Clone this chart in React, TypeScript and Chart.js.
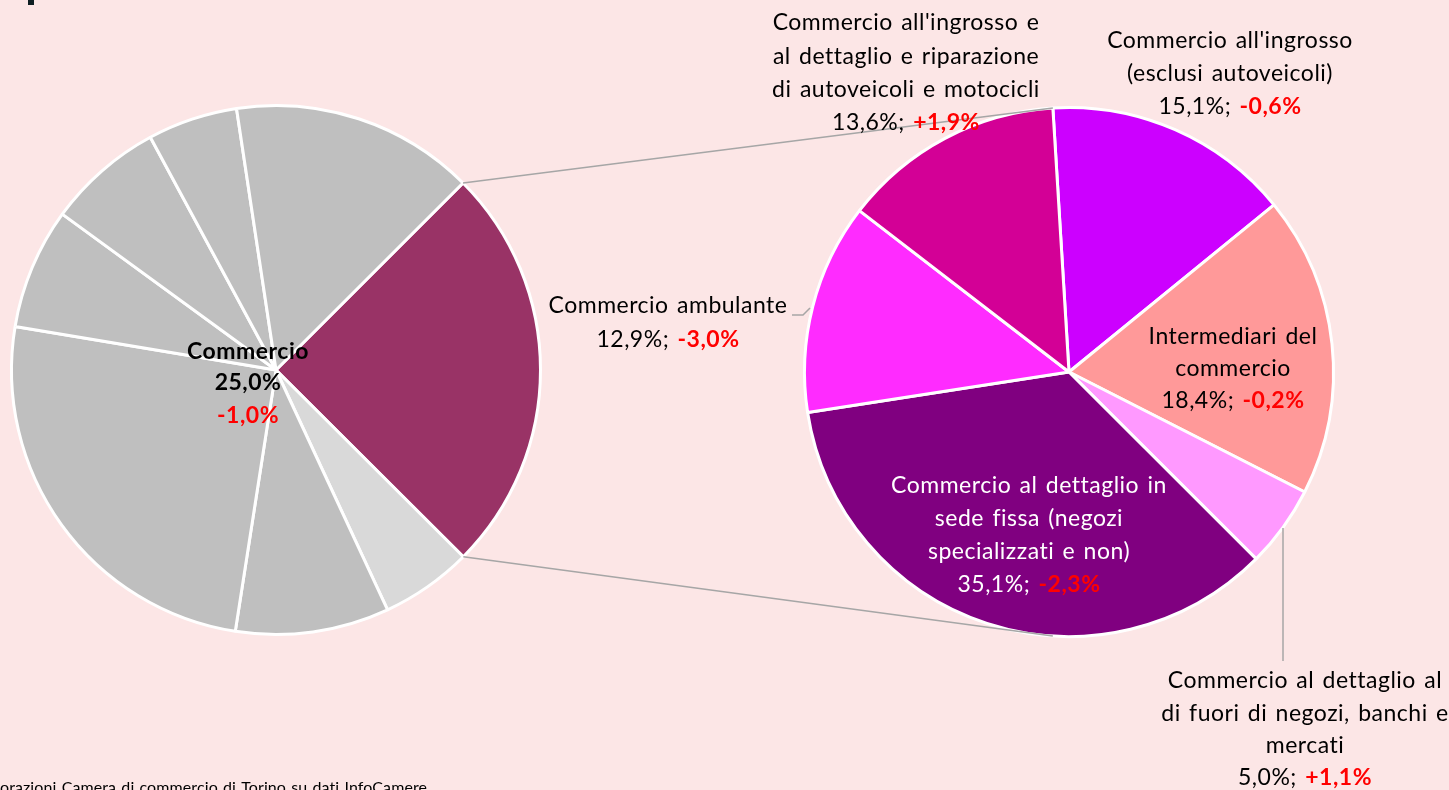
import React, { useEffect, useRef } from "react";
import { Chart, registerables } from "chart.js";

Chart.register(...registerables);

// ---------- DATA ----------
const leftCategories = [
  "Commercio",
  "Settore B",
  "Settore C",
  "Settore D",
  "Settore E",
  "Settore F",
  "Settore G",
  "Settore H",
];
const leftShares = [25.0, 5.6, 9.4, 25.2, 7.4, 7.1, 5.5, 14.9];
const leftChange = "-1,0%";

const rightCategories = [
  "Commercio all'ingrosso (esclusi autoveicoli)",
  "Intermediari del commercio",
  "Commercio al dettaglio al di fuori di negozi, banchi e mercati",
  "Commercio al dettaglio in sede fissa (negozi specializzati e non)",
  "Commercio ambulante",
  "Commercio all'ingrosso e al dettaglio e riparazione di autoveicoli e motocicli",
];
const rightShares = [15.1, 18.4, 5.0, 35.1, 12.9, 13.6];
const rightChanges = ["-0,6%", "-0,2%", "+1,1%", "-2,3%", "-3,0%", "+1,9%"];
const rightLabelLines = [
  ["Commercio all'ingrosso", "(esclusi autoveicoli)"],
  ["Intermediari del", "commercio"],
  ["Commercio al dettaglio al", "di fuori di negozi, banchi e", "mercati"],
  ["Commercio al dettaglio in", "sede fissa (negozi", "specializzati e non)"],
  ["Commercio ambulante"],
  ["Commercio all'ingrosso e", "al dettaglio e riparazione", "di autoveicoli e motocicli"],
];
const sourceNote = "Elaborazioni Camera di commercio di Torino su dati InfoCamere";

// ---------- STYLE ----------
const W = 1449;
const H = 790;
const BG = "#FCE6E6";
const FONT = "Lato, 'Open Sans', sans-serif";
const FS = 23;
const RED = "#FF0000";
const leftColors = ["#993366", "#D9D9D9", "#BFBFBF", "#BFBFBF", "#BFBFBF", "#BFBFBF", "#BFBFBF", "#BFBFBF"];
const rightColors = ["#CC00FF", "#FF9999", "#FF99FF", "#800080", "#FF2BFF", "#D30096"];
const rightLabelLayout = [
  { dx: 161, dy: -331, color: "#000000", lh: 33 },
  { dx: 164, dy: -35, color: "#000000", lh: 32 },
  { dx: 236, dy: 309, color: "#000000", lh: 32.3 },
  { dx: -40, dy: 114, color: "#FFFFFF", lh: 32.7 },
  { dx: -401, dy: -66, color: "#000000", lh: 34 },
  { dx: -163, dy: -349, color: "#000000", lh: 33.3 },
];

const fmt = (v: number) => v.toFixed(1).replace(".", ",") + "%";

type Part = { text: string; bold?: boolean; color: string };

function setSpacing(ctx: any, ls: string, ws: string) {
  if ("letterSpacing" in ctx) ctx.letterSpacing = ls;
  if ("wordSpacing" in ctx) ctx.wordSpacing = ws;
}

function drawParts(ctx: CanvasRenderingContext2D, parts: Part[], cx: number, y: number, size = FS) {
  ctx.textBaseline = "middle";
  ctx.textAlign = "left";
  setSpacing(ctx, "0.5px", "2px");
  let total = 0;
  const widths = parts.map((p) => {
    ctx.font = `${p.bold ? "bold " : ""}${size}px ${FONT}`;
    const w = ctx.measureText(p.text).width;
    total += w;
    return w;
  });
  let x = cx - total / 2;
  parts.forEach((p, i) => {
    ctx.font = `${p.bold ? "bold " : ""}${size}px ${FONT}`;
    ctx.fillStyle = p.color;
    ctx.fillText(p.text, x, y);
    x += widths[i];
  });
}

export default function App() {
  const leftRef = useRef<HTMLCanvasElement>(null);
  const rightRef = useRef<HTMLCanvasElement>(null);

  useEffect(() => {
    const leftPlugin = {
      id: "leftLabels",
      afterDatasetsDraw(chart: any) {
        const ctx = chart.ctx as CanvasRenderingContext2D;
        const arc = chart.getDatasetMeta(0).data[0] as any;
        const { x, y } = arc.getProps(["x", "y"], true);
        ctx.save();
        const lx = x - 28;
        drawParts(ctx, [{ text: leftCategories[0], bold: true, color: "#000" }], lx, y - 18);
        drawParts(ctx, [{ text: fmt(leftShares[0]), bold: true, color: "#000" }], lx, y + 13);
        drawParts(ctx, [{ text: leftChange, bold: true, color: RED }], lx, y + 46);
        // source note (cropped on the left like the reference)
        setSpacing(ctx, "0.1px", "1px");
        ctx.font = `16px ${FONT}`;
        const pre = ctx.measureText("Elab").width;
        ctx.fillStyle = "#000";
        ctx.textAlign = "left";
        ctx.textBaseline = "alphabetic";
        ctx.fillText(sourceNote, -pre, 793);
        ctx.restore();
      },
    };

    const left = new Chart(leftRef.current!, {
      type: "pie",
      data: {
        labels: leftCategories,
        datasets: [
          {
            data: leftShares,
            backgroundColor: leftColors,
            borderColor: "#FFFFFF",
            borderWidth: 3,
          },
        ],
      },
      options: {
        responsive: false,
        animation: false,
        rotation: 45,
        layout: { padding: { left: 10, right: W - 542, top: 104, bottom: H - 636 } },
        plugins: { legend: { display: false }, tooltip: { enabled: false } },
      },
      plugins: [leftPlugin],
    });

    const rightPlugin = {
      id: "rightLabels",
      afterDatasetsDraw(chart: any) {
        const ctx = chart.ctx as CanvasRenderingContext2D;
        const meta = chart.getDatasetMeta(0);
        const a0 = meta.data[0] as any;
        const { x: cx, y: cy, outerRadius: r, startAngle } = a0.getProps(
          ["x", "y", "outerRadius", "startAngle"],
          true
        );
        // connectors from the left pie's highlighted slice
        const la = left.getDatasetMeta(0).data[0] as any;
        const lp = la.getProps(["x", "y", "outerRadius", "startAngle", "endAngle"], true);
        ctx.save();
        ctx.strokeStyle = "#A6A6A6";
        ctx.lineWidth = 1.5;
        ctx.beginPath();
        ctx.moveTo(lp.x + lp.outerRadius * Math.cos(lp.startAngle), lp.y + lp.outerRadius * Math.sin(lp.startAngle));
        ctx.lineTo(cx + r * Math.cos(startAngle), cy + r * Math.sin(startAngle));
        ctx.moveTo(lp.x + lp.outerRadius * Math.cos(lp.endAngle), lp.y + lp.outerRadius * Math.sin(lp.endAngle));
        ctx.lineTo(cx + r * Math.cos(-startAngle), cy + r * Math.sin(-startAngle));
        // leader lines
        ctx.moveTo(cx - 277, cy - 57);
        ctx.lineTo(cx - 266, cy - 57);
        ctx.lineTo(cx - 259, cy - 64);
        ctx.moveTo(cx + 214, cy + 156);
        ctx.lineTo(cx + 214, cy + 289);
        ctx.stroke();

        rightLabelLines.forEach((lines, i) => {
          const L = rightLabelLayout[i];
          const lx = cx + L.dx;
          let ly = cy + L.dy;
          lines.forEach((t) => {
            drawParts(ctx, [{ text: t, color: L.color }], lx, ly);
            ly += L.lh;
          });
          drawParts(
            ctx,
            [
              { text: fmt(rightShares[i]) + "; ", color: L.color },
              { text: rightChanges[i], bold: true, color: RED },
            ],
            lx,
            ly
          );
        });
        ctx.restore();
      },
    };

    const right = new Chart(rightRef.current!, {
      type: "pie",
      data: {
        labels: rightCategories,
        datasets: [
          {
            data: rightShares,
            backgroundColor: rightColors,
            borderColor: "#FFFFFF",
            borderWidth: 3,
          },
        ],
      },
      options: {
        responsive: false,
        animation: false,
        rotation: -3.5,
        layout: { padding: { left: 803, right: W - 1335, top: 106, bottom: H - 638 } },
        plugins: { legend: { display: false }, tooltip: { enabled: false } },
      },
      plugins: [rightPlugin],
    });

    return () => {
      right.destroy();
      left.destroy();
    };
  }, []);

  const canvasStyle: React.CSSProperties = { position: "absolute", left: 0, top: 0, width: W, height: H };
  return (
    <div style={{ position: "fixed", left: 0, top: 0, width: W, height: H, background: BG, overflow: "hidden" }}>
      <div style={{ position: "absolute", left: 28, top: 0, width: 6, height: 5, background: "#0E1E22" }} />
      <canvas ref={leftRef} width={W} height={H} style={canvasStyle} />
      <canvas ref={rightRef} width={W} height={H} style={canvasStyle} />
    </div>
  );
}
